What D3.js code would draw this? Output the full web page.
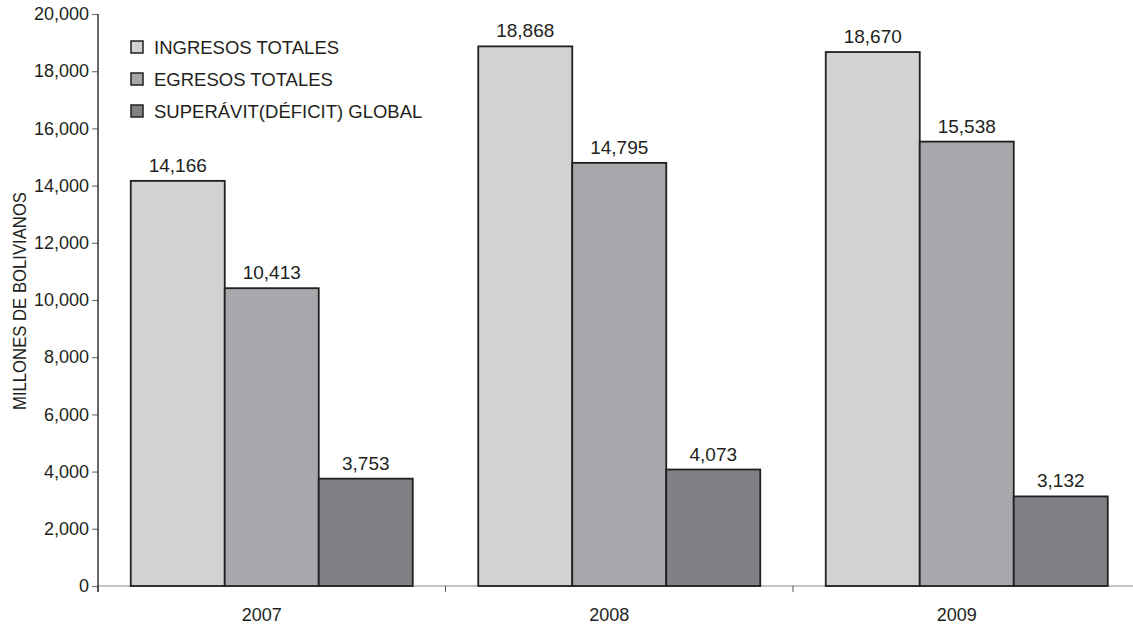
<!DOCTYPE html>
<html>
<head>
<meta charset="utf-8">
<script src="https://cdn.jsdelivr.net/npm/d3@7"></script>
<style>
  html, body { margin: 0; padding: 0; background: #fff; }
  svg { display: block; font-family: "Liberation Sans", Arial, Helvetica, sans-serif; }
</style>
</head>
<body>
<svg id="chart" width="1133" height="627"></svg>
<script>
const years = ["2007", "2008", "2009"];
const seriesNames = ["INGRESOS TOTALES", "EGRESOS TOTALES", "SUPERÁVIT(DÉFICIT) GLOBAL"];
const ingresos = [14166, 18868, 18670];
const egresos = [10413, 14795, 15538];
const superavit = [3753, 4073, 3132];
const yTicks = [0, 2000, 4000, 6000, 8000, 10000, 12000, 14000, 16000, 18000, 20000];
const yTitle = "MILLONES DE BOLIVIANOS";

(function () {
const colors = ["#d1d2d4", "#a7a8ab", "#808184"];
const seriesValues = [ingresos, egresos, superavit];

const svg = d3.select("#chart");
const mLeft = 98, mRight = 1140.5, mTop = 14, mBottom = 586;

const x = d3.scaleBand().domain(years).range([mLeft, mRight]).padding(0);
const xs = d3.scaleBand().domain(d3.range(seriesNames.length))
  .range([32.75, x.bandwidth() - 32.75]).padding(0);
const y = d3.scaleLinear().domain([0, 20000]).range([mBottom, mTop]);
const fmt = d3.format(",");

// X axis line (gray)
svg.append("line")
  .attr("x1", mLeft).attr("x2", 1133)
  .attr("y1", mBottom).attr("y2", mBottom)
  .attr("stroke", "#8a8a8a").attr("stroke-width", 1.2);
const bounds = years.map(d => x(d));
svg.selectAll(".xtick").data(bounds).join("line")
  .attr("x1", d => d).attr("x2", d => d)
  .attr("y1", mBottom).attr("y2", mBottom + 6)
  .attr("stroke", "#555").attr("stroke-width", 1);

// Y axis
const yAxis = d3.axisLeft(y).tickValues(yTicks).tickFormat(fmt).tickSize(6).tickPadding(3);
const ga = svg.append("g").attr("transform", `translate(${mLeft},0)`).call(yAxis);
ga.select(".domain").remove();
ga.selectAll(".tick line").attr("stroke", "#777").attr("stroke-width", 1.2);
ga.selectAll(".tick text").attr("font-size", 18).attr("fill", "#231f20")
  .attr("font-family", "'Liberation Sans', Arial, sans-serif");
svg.append("line")
  .attr("x1", mLeft).attr("x2", mLeft)
  .attr("y1", mTop).attr("y2", mBottom + 6)
  .attr("stroke", "#333").attr("stroke-width", 1.5);

// Bars
const groups = svg.selectAll(".grp").data(years).join("g")
  .attr("transform", d => `translate(${x(d)},0)`);
groups.each(function (yr, i) {
  const g = d3.select(this);
  seriesValues.forEach((vals, s) => {
    const v = vals[i];
    g.append("rect")
      .attr("x", xs(s)).attr("width", xs.bandwidth())
      .attr("y", y(v)).attr("height", y(0) - y(v))
      .attr("fill", colors[s]).attr("stroke", "#231f20").attr("stroke-width", 1.8);
    g.append("text")
      .attr("x", xs(s) + xs.bandwidth() / 2).attr("y", y(v) - 9)
      .attr("text-anchor", "middle").attr("font-size", 19).attr("fill", "#231f20")
      .text(fmt(v));
  });
});

// Category labels
svg.selectAll(".xlab").data(years).join("text")
  .attr("x", d => x(d) + x.bandwidth() / 2 - 10)
  .attr("y", 621)
  .attr("text-anchor", "middle").attr("font-size", 18).attr("fill", "#231f20")
  .text(d => d);

// Y title
svg.append("text")
  .attr("transform", "translate(26,301) rotate(-90)")
  .attr("text-anchor", "middle").attr("font-size", 18.5).attr("fill", "#231f20")
  .attr("textLength", 218).attr("lengthAdjust", "spacingAndGlyphs")
  .text(yTitle);

// Legend
const lg = svg.append("g");
seriesNames.forEach((name, s) => {
  const yy = 41 + s * 32;
  lg.append("rect").attr("x", 131).attr("y", yy).attr("width", 12).attr("height", 12)
    .attr("fill", colors[s]).attr("stroke", "#231f20").attr("stroke-width", 1.5);
  lg.append("text").attr("x", 154).attr("y", yy + 12.5)
    .attr("font-size", 18.5).attr("fill", "#231f20").text(name);
});
})();
</script>
</body>
</html>
